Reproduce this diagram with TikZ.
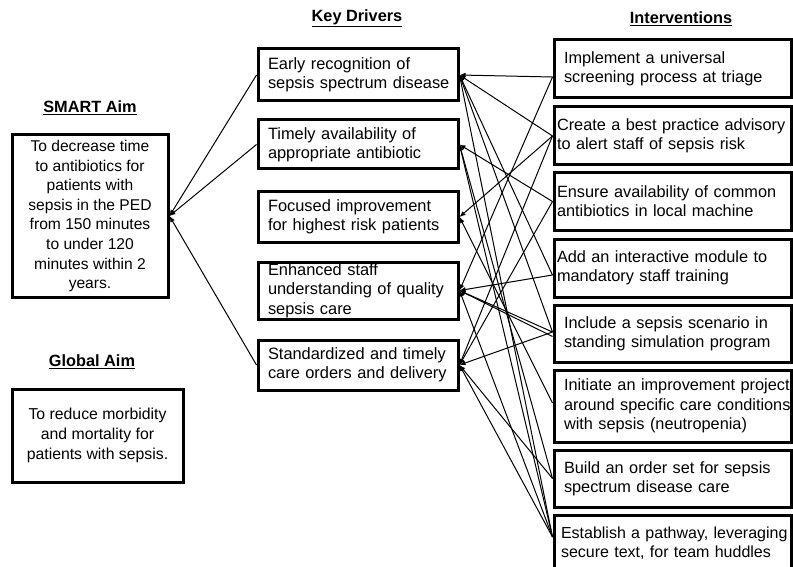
\documentclass[tikz,border=0pt]{standalone}
\usepackage{fontspec}
\setmainfont{Liberation Sans}
\usetikzlibrary{arrows.meta}
\newcommand\oneline[1]{\mbox{#1}}
\begin{document}
\begin{tikzpicture}[x=1pt,y=-1pt,
  box/.style={draw, line width=3pt, align=left, inner ysep=0pt},
  kd/.style={box, text width=180pt, inner xsep=10pt, minimum width=200pt, font=\fontsize{16.4}{19.3}\selectfont},
  iv/.style={box, text width=217pt, inner xsep=10pt, minimum width=237pt, font=\fontsize{16.3}{19.3}\selectfont},
  ivn/.style={box, text width=231pt, inner xsep=3pt, minimum width=237pt, font=\fontsize{16.3}{19.3}\selectfont},
  aim/.style={draw, line width=3pt, align=center, inner sep=0pt, font=\fontsize{15.6}{19.6}\selectfont},
  head/.style={font=\bfseries\fontsize{16.3}{19}\selectfont, inner sep=0pt},
  conn/.style={line width=1pt, -{Latex[length=6pt,width=5pt]}}]
\useasboundingbox (0,0) rectangle (793,567);

% headings
\node[head] (hkd) at (357,18) {\underline{Key Drivers}};
\node[head] (hiv) at (681,19) {\underline{Interventions}};
\node[head] (hsm) at (90,108) {\underline{SMART Aim}};
\node[head] (hgl) at (92,362) {\underline{Global Aim}};

% aims
\node[aim, minimum width=156pt, minimum height=162pt] (sm) at (90,216)
  {To decrease time\\to antibiotics for\\patients with\\sepsis in the PED\\from 150 minutes\\to under 120\\minutes within 2\\years.};
\node[aim, minimum width=171pt, minimum height=93pt, font=\fontsize{15.8}{19.6}\selectfont] (gl) at (97.5,435.5)
  {To reduce morbidity\\and mortality for\\patients with sepsis.};

% key drivers
\node[kd, minimum height=52pt] (k1) at (358,75) {\oneline{Early recognition of}\\\oneline{sepsis spectrum disease}};
\node[kd, minimum height=49pt] (k2) at (358,144.5) {\oneline{Timely availability of}\\\oneline{appropriate antibiotic}};
\node[kd, minimum height=50pt] (k3) at (358,217) {\oneline{Focused improvement}\\\oneline{for highest risk patients}};
\node[kd, minimum height=57pt] (k4) at (358,290.5) {\oneline{Enhanced staff}\\\oneline{understanding of quality}\\\oneline{sepsis care}};
\node[kd, minimum height=50pt] (k5) at (358,365) {\oneline{Standardized and timely}\\\oneline{care orders and delivery}};

% interventions
\node[iv, minimum height=58pt] (i1) at (672.5,69) {\oneline{Implement a universal}\\\oneline{screening process at triage}};
\node[ivn, minimum height=58pt] (i2) at (672.5,136) {\oneline{Create a best practice advisory}\\\oneline{to alert staff of sepsis risk}};
\node[ivn, minimum height=57pt] (i3) at (672.5,201.5) {\oneline{Ensure availability of common}\\\oneline{antibiotics in local machine}};
\node[ivn, minimum height=58pt] (i4) at (672.5,268) {\oneline{Add an interactive module to}\\\oneline{mandatory staff training}};
\node[iv, minimum height=57pt] (i5) at (672.5,333.5) {\oneline{Include a sepsis scenario in}\\\oneline{standing simulation program}};
\node[iv, minimum height=72pt] (i6) at (672.5,406) {\oneline{Initiate an improvement project}\\\oneline{around specific care conditions}\\\oneline{with sepsis (neutropenia)}};
\node[iv, minimum height=57pt] (i7) at (672.5,478.5) {\oneline{Build an order set for sepsis}\\\oneline{spectrum disease care}};
\node[iv, minimum height=56pt, text width=223pt, inner xsep=7pt, font=\fontsize{16}{19.3}\selectfont] (i8) at (672.5,543) {\oneline{Establish a pathway, leveraging}\\\oneline{secure text, for team huddles}};

% junction points
\coordinate (j1) at ([yshift=-8pt]i1.west);
\coordinate (j2) at (i2.west);
\coordinate (j3) at (i3.west);
\coordinate (j4) at ([yshift=-7pt]i4.west);
\coordinate (j5) at ([yshift=1.5pt]i5.west);
\coordinate (j5b) at ([yshift=-3pt]i5.west);
\coordinate (j6) at ([yshift=3pt]i6.west);
\coordinate (j7) at (i7.west);
\coordinate (j8) at ([yshift=6pt]i8.west);

% drivers to aim
\draw[conn] (k1.west) -- (sm.east);
\draw[conn] (k2.west) -- (sm.east);
\draw[conn] (k5.west) -- (sm.east);

% interventions to drivers
\draw[conn] (j1) -- (k1.east);
\draw[conn] (j1) -- (k4.east);
\draw[conn] (j2) -- (k1.east);
\draw[conn] (j2) -- (k3.east);
\draw[conn] (j2) -- (k5.east);
\draw[conn] (j3) -- (k2.east);
\draw[conn] (j3) -- (k5.east);
\draw[conn] (j4) -- (k1.east);
\draw[conn] (j4) -- (k4.east);
\draw[conn] (j5) -- (k1.east);
\draw[conn] (j5) -- (k4.east);
\draw[conn] (j5b) -- (k4.east);
\draw[conn] (j5) -- (k5.east);
\draw[conn] (j6) -- (k3.east);
\draw[conn] (j7) -- (k2.east);
\draw[conn] (j7) -- (k5.east);
\draw[conn] (j8) -- (k1.east);
\draw[conn] (j8) -- (k2.east);
\draw[conn] (j8) -- (k4.east);
\draw[conn] (j8) -- (k5.east);
\end{tikzpicture}
\end{document}
